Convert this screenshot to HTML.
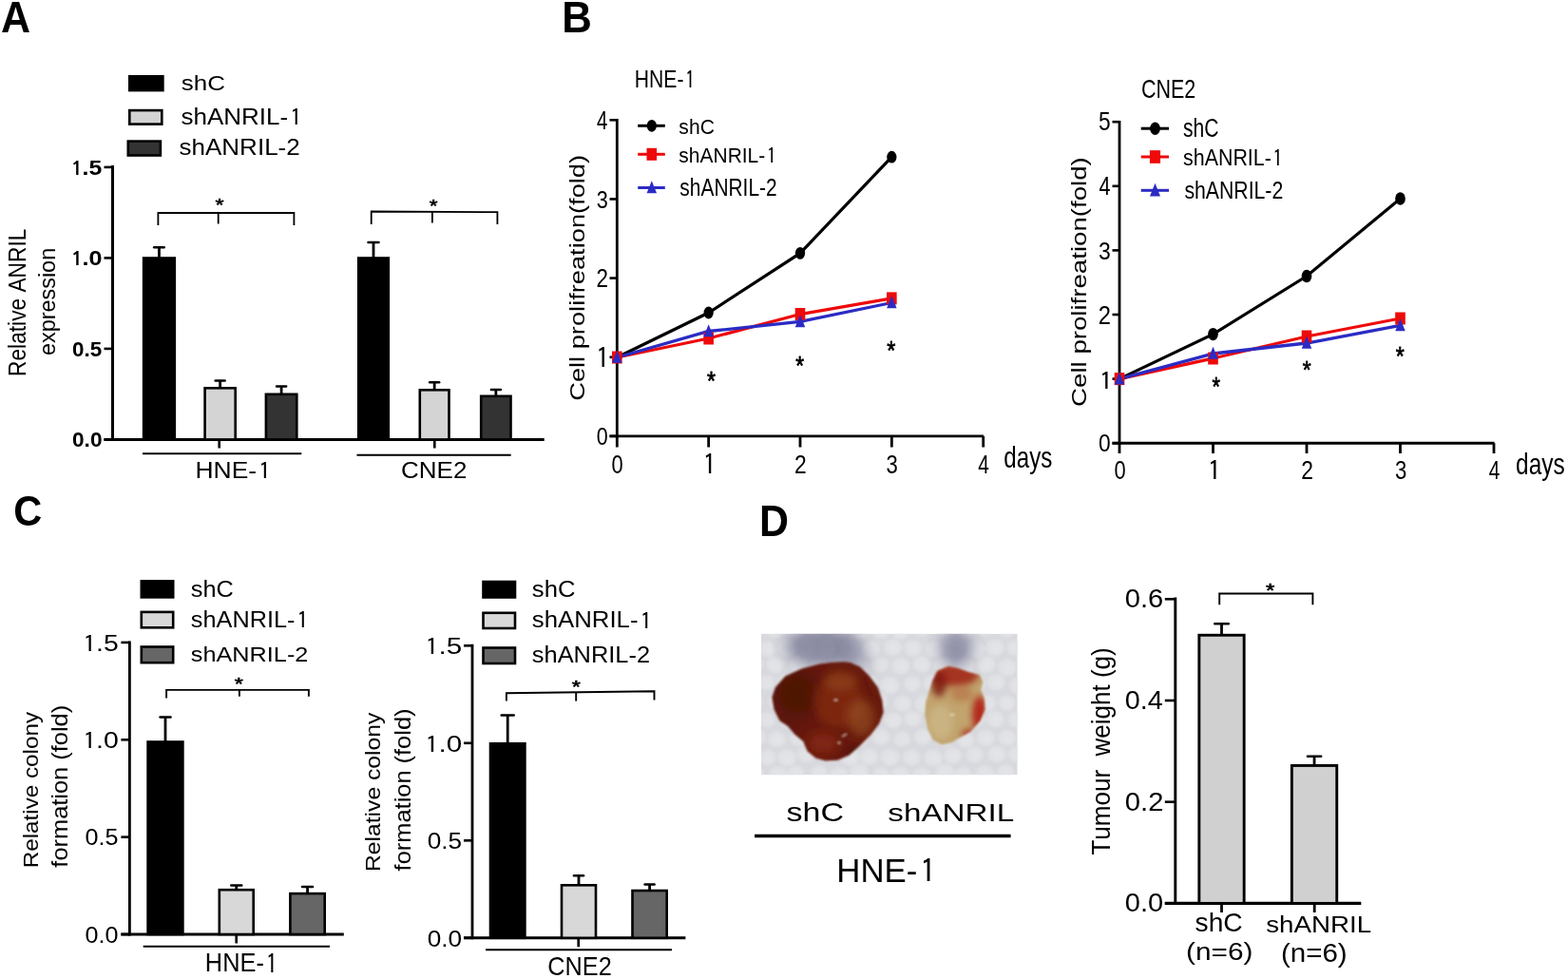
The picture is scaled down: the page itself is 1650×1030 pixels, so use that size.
<!DOCTYPE html><html><head><meta charset="utf-8"><title>Figure</title><style>html,body{margin:0;padding:0;background:#fff;}svg{display:block;}text{white-space:pre;font-kerning:none;font-variant-ligatures:none;}</style></head><body>
<svg width="1650" height="1030" viewBox="0 0 1650 1030">
<rect width="1650" height="1030" fill="#fff"/>
<text transform="translate(0.93 33.70) scale(0.4299 0.4565)" font-size="100" font-family='"Liberation Sans", Arial, sans-serif' font-weight="bold" fill="#000">A</text>
<text transform="translate(591.35 33.70) scale(0.4377 0.4594)" font-size="100" font-family='"Liberation Sans", Arial, sans-serif' font-weight="bold" fill="#000">B</text>
<text transform="translate(14.34 552.55) scale(0.4153 0.4451)" font-size="100" font-family='"Liberation Sans", Arial, sans-serif' font-weight="bold" fill="#000">C</text>
<text transform="translate(799.01 563.70) scale(0.4293 0.4594)" font-size="100" font-family='"Liberation Sans", Arial, sans-serif' font-weight="bold" fill="#000">D</text>
<rect x="136.20" y="80.20" width="35.30" height="15.00" fill="#000" stroke="#000" stroke-width="2.40"/>
<rect x="136.30" y="116.10" width="34.00" height="14.50" fill="#d4d4d4" stroke="#000" stroke-width="2.60"/>
<rect x="134.80" y="148.60" width="34.10" height="14.90" fill="#333333" stroke="#000" stroke-width="2.60"/>
<text transform="translate(190.72 95.38) scale(0.2598 0.2163)" font-size="100" font-family='"Liberation Sans", Arial, sans-serif' fill="#000">shC</text>
<text transform="translate(190.42 131.17) scale(0.2603 0.2340)" font-size="100" font-family='"Liberation Sans", Arial, sans-serif' fill="#000">shANRIL-<tspan dx="7.30" dy="5.00" font-family="IPAGothic, 'Liberation Sans', sans-serif" font-size="98.30">1</tspan></text>
<text transform="translate(188.42 163.47) scale(0.2605 0.2340)" font-size="100" font-family='"Liberation Sans", Arial, sans-serif' fill="#000">shANRIL-2</text>
<line x1="118.50" y1="174.00" x2="118.50" y2="463.90" stroke="#000" stroke-width="3.00" stroke-linecap="butt"/>
<line x1="109.50" y1="462.40" x2="572.70" y2="462.40" stroke="#000" stroke-width="3.00" stroke-linecap="butt"/>
<line x1="109.50" y1="175.90" x2="118.50" y2="175.90" stroke="#000" stroke-width="2.60" stroke-linecap="butt"/>
<text transform="translate(72.67 183.88) scale(0.2485 0.2171)" font-size="100" font-family='"Liberation Sans", Arial, sans-serif' font-weight="bold" fill="#000"><tspan dx="5.70" font-family="NanumGothic, 'Liberation Sans', sans-serif" font-size="90.50">1</tspan><tspan dx="-4.90">.</tspan>5</text>
<line x1="109.50" y1="271.40" x2="118.50" y2="271.40" stroke="#000" stroke-width="2.60" stroke-linecap="butt"/>
<text transform="translate(72.62 279.39) scale(0.2517 0.2141)" font-size="100" font-family='"Liberation Sans", Arial, sans-serif' font-weight="bold" fill="#000"><tspan dx="5.70" font-family="NanumGothic, 'Liberation Sans', sans-serif" font-size="90.50">1</tspan><tspan dx="-4.90">.</tspan>0</text>
<line x1="109.50" y1="366.90" x2="118.50" y2="366.90" stroke="#000" stroke-width="2.60" stroke-linecap="butt"/>
<text transform="translate(76.00 374.89) scale(0.2242 0.2141)" font-size="100" font-family='"Liberation Sans", Arial, sans-serif' font-weight="bold" fill="#000">0.5</text>
<line x1="109.50" y1="462.40" x2="118.50" y2="462.40" stroke="#000" stroke-width="2.60" stroke-linecap="butt"/>
<text transform="translate(75.99 470.39) scale(0.2267 0.2141)" font-size="100" font-family='"Liberation Sans", Arial, sans-serif' font-weight="bold" fill="#000">0.0</text>
<text transform="translate(26.84 395.92) rotate(-90) scale(0.2272 0.2612)" font-size="100" font-family='"Liberation Sans", Arial, sans-serif' fill="#000">Relative ANRIL</text>
<text transform="translate(58.49 374.04) rotate(-90) scale(0.2342 0.2481)" font-size="100" font-family='"Liberation Sans", Arial, sans-serif' fill="#000">expression</text>
<line x1="167.45" y1="271.20" x2="167.45" y2="260.20" stroke="#000" stroke-width="2.80" stroke-linecap="butt"/>
<line x1="162.20" y1="260.20" x2="172.70" y2="260.20" stroke="#000" stroke-width="2.50" stroke-linecap="round"/>
<rect x="151.10" y="271.50" width="32.70" height="190.90" fill="#000" stroke="#000" stroke-width="2.60"/>
<line x1="231.65" y1="408.00" x2="231.65" y2="400.50" stroke="#000" stroke-width="2.80" stroke-linecap="butt"/>
<line x1="226.65" y1="400.50" x2="236.65" y2="400.50" stroke="#000" stroke-width="2.50" stroke-linecap="round"/>
<rect x="215.60" y="408.30" width="32.10" height="54.10" fill="#d4d4d4" stroke="#000" stroke-width="2.60"/>
<line x1="296.10" y1="414.50" x2="296.10" y2="406.50" stroke="#000" stroke-width="2.80" stroke-linecap="butt"/>
<line x1="291.10" y1="406.50" x2="301.10" y2="406.50" stroke="#000" stroke-width="2.50" stroke-linecap="round"/>
<rect x="279.90" y="414.80" width="32.40" height="47.60" fill="#333333" stroke="#000" stroke-width="2.60"/>
<line x1="393.00" y1="271.20" x2="393.00" y2="255.00" stroke="#000" stroke-width="2.80" stroke-linecap="butt"/>
<line x1="387.50" y1="255.00" x2="398.50" y2="255.00" stroke="#000" stroke-width="2.50" stroke-linecap="round"/>
<rect x="377.20" y="271.50" width="31.60" height="190.90" fill="#000" stroke="#000" stroke-width="2.60"/>
<line x1="457.15" y1="410.00" x2="457.15" y2="402.30" stroke="#000" stroke-width="2.80" stroke-linecap="butt"/>
<line x1="452.15" y1="402.30" x2="462.15" y2="402.30" stroke="#000" stroke-width="2.50" stroke-linecap="round"/>
<rect x="441.80" y="410.30" width="30.70" height="52.10" fill="#d4d4d4" stroke="#000" stroke-width="2.60"/>
<line x1="521.85" y1="416.50" x2="521.85" y2="410.00" stroke="#000" stroke-width="2.80" stroke-linecap="butt"/>
<line x1="516.85" y1="410.00" x2="526.85" y2="410.00" stroke="#000" stroke-width="2.50" stroke-linecap="round"/>
<rect x="506.20" y="416.80" width="31.30" height="45.60" fill="#333333" stroke="#000" stroke-width="2.60"/>
<line x1="230.70" y1="462.40" x2="230.70" y2="471.50" stroke="#000" stroke-width="2.60" stroke-linecap="butt"/>
<line x1="457.30" y1="462.40" x2="457.30" y2="471.50" stroke="#000" stroke-width="2.60" stroke-linecap="butt"/>
<line x1="150.00" y1="477.30" x2="317.30" y2="477.30" stroke="#000" stroke-width="2.00" stroke-linecap="butt"/>
<line x1="375.50" y1="478.70" x2="537.70" y2="478.70" stroke="#000" stroke-width="2.00" stroke-linecap="butt"/>
<text transform="translate(205.48 502.70) scale(0.2647 0.2420)" font-size="100" font-family='"Liberation Sans", Arial, sans-serif' fill="#000">HNE-<tspan dx="7.30" dy="5.00" font-family="IPAGothic, 'Liberation Sans', sans-serif" font-size="98.30">1</tspan></text>
<text transform="translate(422.00 502.75) scale(0.2600 0.2465)" font-size="100" font-family='"Liberation Sans", Arial, sans-serif' fill="#000">CNE2</text>
<polyline points="166.40,237.00 166.40,224.00 309.40,224.00 309.40,237.00" fill="none" stroke="#000" stroke-width="1.80" stroke-linejoin="miter"/>
<line x1="229.70" y1="224.00" x2="229.70" y2="235.50" stroke="#000" stroke-width="1.80" stroke-linecap="butt"/>
<text transform="translate(226.40 222.17) scale(0.2338 0.1800)" font-size="100" font-family='"Liberation Sans", Arial, sans-serif' fill="#000" stroke="#000" stroke-width="3.383" stroke-linejoin="round">*</text>
<polyline points="390.70,236.10 390.70,222.50 523.40,223.10 523.40,236.10" fill="none" stroke="#000" stroke-width="1.80" stroke-linejoin="miter"/>
<line x1="454.90" y1="222.80" x2="454.90" y2="234.40" stroke="#000" stroke-width="1.80" stroke-linecap="butt"/>
<text transform="translate(451.76 223.08) scale(0.2254 0.1743)" font-size="100" font-family='"Liberation Sans", Arial, sans-serif' fill="#000" stroke="#000" stroke-width="3.503" stroke-linejoin="round">*</text>
<text transform="translate(667.81 92.00) scale(0.2113 0.2609)" font-size="100" font-family='"Liberation Sans", Arial, sans-serif' fill="#000">HNE-<tspan dx="7.30" dy="5.00" font-family="IPAGothic, 'Liberation Sans', sans-serif" font-size="98.30">1</tspan></text>
<line x1="649.30" y1="125.00" x2="649.30" y2="460.40" stroke="#000" stroke-width="2.80" stroke-linecap="butt"/>
<line x1="641.50" y1="458.90" x2="1035.00" y2="458.90" stroke="#000" stroke-width="2.90" stroke-linecap="butt"/>
<line x1="641.50" y1="458.90" x2="649.30" y2="458.90" stroke="#000" stroke-width="2.60" stroke-linecap="butt"/>
<text transform="translate(627.64 468.14) scale(0.2147 0.2648)" font-size="100" font-family='"Liberation Sans", Arial, sans-serif' fill="#000">0</text>
<line x1="641.50" y1="375.75" x2="649.30" y2="375.75" stroke="#000" stroke-width="2.60" stroke-linecap="butt"/>
<text transform="translate(624.95 385.80) scale(0.2973 0.2884)" font-size="100" font-family='"Liberation Sans", Arial, sans-serif' fill="#000"><tspan dx="7.30" dy="5.00" font-family="IPAGothic, 'Liberation Sans', sans-serif" font-size="98.30">1</tspan></text>
<line x1="641.50" y1="292.60" x2="649.30" y2="292.60" stroke="#000" stroke-width="2.60" stroke-linecap="butt"/>
<text transform="translate(627.38 302.10) scale(0.2242 0.2686)" font-size="100" font-family='"Liberation Sans", Arial, sans-serif' fill="#000">2</text>
<line x1="641.50" y1="209.45" x2="649.30" y2="209.45" stroke="#000" stroke-width="2.60" stroke-linecap="butt"/>
<text transform="translate(627.63 218.69) scale(0.2170 0.2648)" font-size="100" font-family='"Liberation Sans", Arial, sans-serif' fill="#000">3</text>
<line x1="641.50" y1="126.30" x2="649.30" y2="126.30" stroke="#000" stroke-width="2.60" stroke-linecap="butt"/>
<text transform="translate(627.99 135.80) scale(0.2040 0.2725)" font-size="100" font-family='"Liberation Sans", Arial, sans-serif' fill="#000">4</text>
<line x1="649.30" y1="458.90" x2="649.30" y2="470.50" stroke="#000" stroke-width="2.80" stroke-linecap="butt"/>
<text transform="translate(643.52 497.92) scale(0.2189 0.2775)" font-size="100" font-family='"Liberation Sans", Arial, sans-serif' fill="#000">0</text>
<line x1="745.65" y1="458.90" x2="745.65" y2="470.50" stroke="#000" stroke-width="2.80" stroke-linecap="butt"/>
<text transform="translate(737.35 498.00) scale(0.2919 0.2899)" font-size="100" font-family='"Liberation Sans", Arial, sans-serif' fill="#000"><tspan dx="7.30" dy="5.00" font-family="IPAGothic, 'Liberation Sans', sans-serif" font-size="98.30">1</tspan></text>
<line x1="842.00" y1="458.90" x2="842.00" y2="470.50" stroke="#000" stroke-width="2.80" stroke-linecap="butt"/>
<text transform="translate(835.96 498.20) scale(0.2286 0.2814)" font-size="100" font-family='"Liberation Sans", Arial, sans-serif' fill="#000">2</text>
<line x1="938.35" y1="458.90" x2="938.35" y2="470.50" stroke="#000" stroke-width="2.80" stroke-linecap="butt"/>
<text transform="translate(932.56 497.92) scale(0.2213 0.2775)" font-size="100" font-family='"Liberation Sans", Arial, sans-serif' fill="#000">3</text>
<line x1="1034.70" y1="458.90" x2="1034.70" y2="470.50" stroke="#000" stroke-width="2.80" stroke-linecap="butt"/>
<text transform="translate(1029.28 498.20) scale(0.2080 0.2855)" font-size="100" font-family='"Liberation Sans", Arial, sans-serif' fill="#000">4</text>
<text transform="translate(1056.33 491.83) scale(0.2413 0.3176)" font-size="100" font-family='"Liberation Sans", Arial, sans-serif' fill="#000">days</text>
<text transform="translate(614.63 421.76) rotate(-90) scale(0.2724 0.2128)" font-size="100" font-family='"Liberation Sans", Arial, sans-serif' fill="#000">Cell prolifreation(fold)</text>
<line x1="671.20" y1="132.30" x2="699.80" y2="132.30" stroke="#000" stroke-width="3.00" stroke-linecap="butt"/>
<ellipse cx="685.80" cy="132.30" rx="5.10" ry="6.40" fill="#000"/>
<text transform="translate(714.37 140.78) scale(0.2111 0.2177)" font-size="100" font-family='"Liberation Sans", Arial, sans-serif' fill="#000">shC</text>
<line x1="671.20" y1="162.30" x2="699.80" y2="162.30" stroke="#ee0a0a" stroke-width="3.00" stroke-linecap="butt"/>
<rect x="680.50" y="155.80" width="10.60" height="13.00" fill="#ee0a0a"/>
<text transform="translate(714.37 170.78) scale(0.2098 0.2231)" font-size="100" font-family='"Liberation Sans", Arial, sans-serif' fill="#000">shANRIL-<tspan dx="7.30" dy="5.00" font-family="IPAGothic, 'Liberation Sans', sans-serif" font-size="98.30">1</tspan></text>
<line x1="671.20" y1="197.50" x2="699.80" y2="197.50" stroke="#2b2bc4" stroke-width="3.00" stroke-linecap="butt"/>
<polygon points="685.80,190.35 680.55,203.35 691.05,203.35" fill="#2b2bc4"/>
<text transform="translate(715.37 206.05) scale(0.2091 0.2490)" font-size="100" font-family='"Liberation Sans", Arial, sans-serif' fill="#000">shANRIL-2</text>
<polyline points="649.30,376.00 745.65,329.00 842.00,266.40 938.35,165.20" fill="none" stroke="#000" stroke-width="3.20" stroke-linejoin="miter"/>
<polyline points="649.30,376.00 745.65,356.00 842.00,330.50 938.35,313.90" fill="none" stroke="#ee0a0a" stroke-width="3.30" stroke-linejoin="miter"/>
<polyline points="649.30,376.00 745.65,348.50 842.00,338.40 938.35,318.50" fill="none" stroke="#2b2bc4" stroke-width="3.30" stroke-linejoin="miter"/>
<ellipse cx="649.30" cy="376.00" rx="5.10" ry="6.40" fill="#000"/>
<ellipse cx="745.65" cy="329.00" rx="5.10" ry="6.40" fill="#000"/>
<ellipse cx="842.00" cy="266.40" rx="5.10" ry="6.40" fill="#000"/>
<ellipse cx="938.35" cy="165.20" rx="5.10" ry="6.40" fill="#000"/>
<rect x="644.00" y="369.50" width="10.60" height="13.00" fill="#ee0a0a"/>
<rect x="740.35" y="349.50" width="10.60" height="13.00" fill="#ee0a0a"/>
<rect x="836.70" y="324.00" width="10.60" height="13.00" fill="#ee0a0a"/>
<rect x="933.05" y="307.40" width="10.60" height="13.00" fill="#ee0a0a"/>
<polygon points="649.30,368.85 644.05,381.85 654.55,381.85" fill="#2b2bc4"/>
<polygon points="745.65,341.35 740.40,354.35 750.90,354.35" fill="#2b2bc4"/>
<polygon points="842.00,331.25 836.75,344.25 847.25,344.25" fill="#2b2bc4"/>
<polygon points="938.35,311.35 933.10,324.35 943.60,324.35" fill="#2b2bc4"/>
<text transform="translate(744.05 410.03) scale(0.2310 0.2743)" font-size="100" font-family='"Liberation Sans", Arial, sans-serif' fill="#000" stroke="#000" stroke-width="2.771" stroke-linejoin="round">*</text>
<text transform="translate(837.36 393.63) scale(0.2254 0.2743)" font-size="100" font-family='"Liberation Sans", Arial, sans-serif' fill="#000" stroke="#000" stroke-width="2.802" stroke-linejoin="round">*</text>
<text transform="translate(933.30 378.47) scale(0.2338 0.2771)" font-size="100" font-family='"Liberation Sans", Arial, sans-serif' fill="#000" stroke="#000" stroke-width="2.740" stroke-linejoin="round">*</text>
<text transform="translate(1201.03 102.83) scale(0.2148 0.2676)" font-size="100" font-family='"Liberation Sans", Arial, sans-serif' fill="#000">CNE2</text>
<line x1="1178.00" y1="127.00" x2="1178.00" y2="467.70" stroke="#000" stroke-width="2.80" stroke-linecap="butt"/>
<line x1="1170.50" y1="466.20" x2="1572.50" y2="466.20" stroke="#000" stroke-width="2.90" stroke-linecap="butt"/>
<line x1="1170.50" y1="466.20" x2="1178.00" y2="466.20" stroke="#000" stroke-width="2.60" stroke-linecap="butt"/>
<text transform="translate(1156.09 475.44) scale(0.2274 0.2648)" font-size="100" font-family='"Liberation Sans", Arial, sans-serif' fill="#000">0</text>
<line x1="1170.50" y1="398.60" x2="1178.00" y2="398.60" stroke="#000" stroke-width="2.60" stroke-linecap="butt"/>
<text transform="translate(1154.75 408.20) scale(0.2919 0.2667)" font-size="100" font-family='"Liberation Sans", Arial, sans-serif' fill="#000"><tspan dx="7.30" dy="5.00" font-family="IPAGothic, 'Liberation Sans', sans-serif" font-size="98.30">1</tspan></text>
<line x1="1170.50" y1="331.00" x2="1178.00" y2="331.00" stroke="#000" stroke-width="2.60" stroke-linecap="butt"/>
<text transform="translate(1155.81 340.50) scale(0.2374 0.2686)" font-size="100" font-family='"Liberation Sans", Arial, sans-serif' fill="#000">2</text>
<line x1="1170.50" y1="263.40" x2="1178.00" y2="263.40" stroke="#000" stroke-width="2.60" stroke-linecap="butt"/>
<text transform="translate(1156.08 272.64) scale(0.2298 0.2648)" font-size="100" font-family='"Liberation Sans", Arial, sans-serif' fill="#000">3</text>
<line x1="1170.50" y1="195.80" x2="1178.00" y2="195.80" stroke="#000" stroke-width="2.60" stroke-linecap="butt"/>
<text transform="translate(1156.46 205.30) scale(0.2160 0.2725)" font-size="100" font-family='"Liberation Sans", Arial, sans-serif' fill="#000">4</text>
<line x1="1170.50" y1="128.20" x2="1178.00" y2="128.20" stroke="#000" stroke-width="2.60" stroke-linecap="butt"/>
<text transform="translate(1156.09 137.43) scale(0.2274 0.2686)" font-size="100" font-family='"Liberation Sans", Arial, sans-serif' fill="#000">5</text>
<line x1="1178.00" y1="466.20" x2="1178.00" y2="477.00" stroke="#000" stroke-width="2.80" stroke-linecap="butt"/>
<text transform="translate(1172.42 503.53) scale(0.2189 0.2676)" font-size="100" font-family='"Liberation Sans", Arial, sans-serif' fill="#000">0</text>
<line x1="1276.50" y1="466.20" x2="1276.50" y2="477.00" stroke="#000" stroke-width="2.80" stroke-linecap="butt"/>
<text transform="translate(1268.65 503.80) scale(0.2919 0.2754)" font-size="100" font-family='"Liberation Sans", Arial, sans-serif' fill="#000"><tspan dx="7.30" dy="5.00" font-family="IPAGothic, 'Liberation Sans', sans-serif" font-size="98.30">1</tspan></text>
<line x1="1375.00" y1="466.20" x2="1375.00" y2="477.00" stroke="#000" stroke-width="2.80" stroke-linecap="butt"/>
<text transform="translate(1369.16 503.80) scale(0.2286 0.2714)" font-size="100" font-family='"Liberation Sans", Arial, sans-serif' fill="#000">2</text>
<line x1="1473.50" y1="466.20" x2="1473.50" y2="477.00" stroke="#000" stroke-width="2.80" stroke-linecap="butt"/>
<text transform="translate(1467.91 503.53) scale(0.2213 0.2676)" font-size="100" font-family='"Liberation Sans", Arial, sans-serif' fill="#000">3</text>
<line x1="1572.00" y1="466.20" x2="1572.00" y2="477.00" stroke="#000" stroke-width="2.80" stroke-linecap="butt"/>
<text transform="translate(1566.78 503.80) scale(0.2080 0.2754)" font-size="100" font-family='"Liberation Sans", Arial, sans-serif' fill="#000">4</text>
<text transform="translate(1595.12 498.76) scale(0.2442 0.3112)" font-size="100" font-family='"Liberation Sans", Arial, sans-serif' fill="#000">days</text>
<text transform="translate(1143.03 427.88) rotate(-90) scale(0.2764 0.2128)" font-size="100" font-family='"Liberation Sans", Arial, sans-serif' fill="#000">Cell prolifreation(fold)</text>
<line x1="1200.70" y1="135.20" x2="1230.00" y2="135.20" stroke="#000" stroke-width="3.00" stroke-linecap="butt"/>
<ellipse cx="1215.50" cy="135.20" rx="5.35" ry="6.72" fill="#000"/>
<text transform="translate(1245.07 143.73) scale(0.2106 0.2680)" font-size="100" font-family='"Liberation Sans", Arial, sans-serif' fill="#000">shC</text>
<line x1="1200.70" y1="165.00" x2="1230.00" y2="165.00" stroke="#ee0a0a" stroke-width="3.00" stroke-linecap="butt"/>
<rect x="1209.93" y="158.18" width="11.13" height="13.65" fill="#ee0a0a"/>
<text transform="translate(1245.06 173.96) scale(0.2141 0.2395)" font-size="100" font-family='"Liberation Sans", Arial, sans-serif' fill="#000">shANRIL-<tspan dx="7.30" dy="5.00" font-family="IPAGothic, 'Liberation Sans', sans-serif" font-size="98.30">1</tspan></text>
<line x1="1200.70" y1="200.30" x2="1230.00" y2="200.30" stroke="#2b2bc4" stroke-width="3.00" stroke-linecap="butt"/>
<polygon points="1215.50,192.79 1209.99,206.44 1221.01,206.44" fill="#2b2bc4"/>
<text transform="translate(1246.46 209.14) scale(0.2123 0.2585)" font-size="100" font-family='"Liberation Sans", Arial, sans-serif' fill="#000">shANRIL-2</text>
<polyline points="1178.00,398.60 1276.50,351.60 1375.00,290.50 1473.50,209.00" fill="none" stroke="#000" stroke-width="3.20" stroke-linejoin="miter"/>
<polyline points="1178.00,398.60 1276.50,377.00 1375.00,354.00 1473.50,335.00" fill="none" stroke="#ee0a0a" stroke-width="3.30" stroke-linejoin="miter"/>
<polyline points="1178.00,398.60 1276.50,372.00 1375.00,361.00 1473.50,342.40" fill="none" stroke="#2b2bc4" stroke-width="3.30" stroke-linejoin="miter"/>
<ellipse cx="1178.00" cy="398.60" rx="5.35" ry="6.72" fill="#000"/>
<ellipse cx="1276.50" cy="351.60" rx="5.35" ry="6.72" fill="#000"/>
<ellipse cx="1375.00" cy="290.50" rx="5.35" ry="6.72" fill="#000"/>
<ellipse cx="1473.50" cy="209.00" rx="5.35" ry="6.72" fill="#000"/>
<rect x="1172.70" y="392.10" width="10.60" height="13.00" fill="#ee0a0a"/>
<rect x="1271.20" y="370.50" width="10.60" height="13.00" fill="#ee0a0a"/>
<rect x="1369.70" y="347.50" width="10.60" height="13.00" fill="#ee0a0a"/>
<rect x="1468.20" y="328.50" width="10.60" height="13.00" fill="#ee0a0a"/>
<polygon points="1178.00,391.45 1172.75,404.45 1183.25,404.45" fill="#2b2bc4"/>
<polygon points="1276.50,364.85 1271.25,377.85 1281.75,377.85" fill="#2b2bc4"/>
<polygon points="1375.00,353.85 1369.75,366.85 1380.25,366.85" fill="#2b2bc4"/>
<polygon points="1473.50,335.25 1468.25,348.25 1478.75,348.25" fill="#2b2bc4"/>
<text transform="translate(1275.62 415.82) scale(0.2169 0.2800)" font-size="100" font-family='"Liberation Sans", Arial, sans-serif' fill="#000" stroke="#000" stroke-width="2.817" stroke-linejoin="round">*</text>
<text transform="translate(1370.81 398.48) scale(0.2282 0.2657)" font-size="100" font-family='"Liberation Sans", Arial, sans-serif' fill="#000" stroke="#000" stroke-width="2.835" stroke-linejoin="round">*</text>
<text transform="translate(1468.85 383.73) scale(0.2310 0.2743)" font-size="100" font-family='"Liberation Sans", Arial, sans-serif' fill="#000" stroke="#000" stroke-width="2.771" stroke-linejoin="round">*</text>
<rect x="148.80" y="611.40" width="33.40" height="17.00" fill="#000" stroke="#000" stroke-width="2.60"/>
<rect x="148.80" y="643.90" width="33.40" height="16.40" fill="#d8d8d8" stroke="#000" stroke-width="2.60"/>
<rect x="148.80" y="680.50" width="33.40" height="16.70" fill="#666666" stroke="#000" stroke-width="2.60"/>
<text transform="translate(200.84 627.96) scale(0.2534 0.2354)" font-size="100" font-family='"Liberation Sans", Arial, sans-serif' fill="#000">shC</text>
<text transform="translate(200.84 660.27) scale(0.2528 0.2313)" font-size="100" font-family='"Liberation Sans", Arial, sans-serif' fill="#000">shANRIL-<tspan dx="7.30" dy="5.00" font-family="IPAGothic, 'Liberation Sans', sans-serif" font-size="98.30">1</tspan></text>
<text transform="translate(200.84 696.47) scale(0.2526 0.2272)" font-size="100" font-family='"Liberation Sans", Arial, sans-serif' fill="#000">shANRIL-2</text>
<line x1="136.40" y1="674.45" x2="136.40" y2="984.50" stroke="#000" stroke-width="2.80" stroke-linecap="butt"/>
<line x1="127.40" y1="983.00" x2="361.80" y2="983.00" stroke="#000" stroke-width="2.90" stroke-linecap="butt"/>
<line x1="127.40" y1="675.95" x2="136.40" y2="675.95" stroke="#000" stroke-width="2.60" stroke-linecap="butt"/>
<text transform="translate(85.19 684.71) scale(0.2845 0.2371)" font-size="100" font-family='"Liberation Sans", Arial, sans-serif' fill="#000"><tspan dx="7.30" dy="5.00" font-family="IPAGothic, 'Liberation Sans', sans-serif" font-size="98.30">1</tspan><tspan dx="-0.85" dy="-5.00">.</tspan>5</text>
<line x1="127.40" y1="778.30" x2="136.40" y2="778.30" stroke="#000" stroke-width="2.60" stroke-linecap="butt"/>
<text transform="translate(85.19 787.07) scale(0.2845 0.2338)" font-size="100" font-family='"Liberation Sans", Arial, sans-serif' fill="#000"><tspan dx="7.30" dy="5.00" font-family="IPAGothic, 'Liberation Sans', sans-serif" font-size="98.30">1</tspan><tspan dx="-0.85" dy="-5.00">.</tspan>0</text>
<line x1="127.40" y1="880.65" x2="136.40" y2="880.65" stroke="#000" stroke-width="2.60" stroke-linecap="butt"/>
<text transform="translate(89.59 889.42) scale(0.2519 0.2338)" font-size="100" font-family='"Liberation Sans", Arial, sans-serif' fill="#000">0.5</text>
<line x1="127.40" y1="983.00" x2="136.40" y2="983.00" stroke="#000" stroke-width="2.60" stroke-linecap="butt"/>
<text transform="translate(89.59 991.77) scale(0.2519 0.2338)" font-size="100" font-family='"Liberation Sans", Arial, sans-serif' fill="#000">0.0</text>
<line x1="174.00" y1="780.20" x2="174.00" y2="754.60" stroke="#000" stroke-width="2.80" stroke-linecap="butt"/>
<line x1="168.50" y1="754.60" x2="179.50" y2="754.60" stroke="#000" stroke-width="2.50" stroke-linecap="round"/>
<rect x="155.60" y="780.50" width="36.80" height="202.50" fill="#000" stroke="#000" stroke-width="2.60"/>
<line x1="248.75" y1="935.90" x2="248.75" y2="931.50" stroke="#000" stroke-width="2.80" stroke-linecap="butt"/>
<line x1="243.25" y1="931.50" x2="254.25" y2="931.50" stroke="#000" stroke-width="2.50" stroke-linecap="round"/>
<rect x="230.80" y="936.20" width="35.90" height="46.80" fill="#d8d8d8" stroke="#000" stroke-width="2.60"/>
<line x1="323.55" y1="939.80" x2="323.55" y2="933.00" stroke="#000" stroke-width="2.80" stroke-linecap="butt"/>
<line x1="318.05" y1="933.00" x2="329.05" y2="933.00" stroke="#000" stroke-width="2.50" stroke-linecap="round"/>
<rect x="305.40" y="940.10" width="36.30" height="42.90" fill="#666666" stroke="#000" stroke-width="2.60"/>
<line x1="248.70" y1="983.00" x2="248.70" y2="992.50" stroke="#000" stroke-width="2.60" stroke-linecap="butt"/>
<line x1="150.70" y1="995.70" x2="347.00" y2="995.70" stroke="#000" stroke-width="2.00" stroke-linecap="butt"/>
<text transform="translate(215.87 1022.40) scale(0.2537 0.2725)" font-size="100" font-family='"Liberation Sans", Arial, sans-serif' fill="#000">HNE-<tspan dx="7.30" dy="5.00" font-family="IPAGothic, 'Liberation Sans', sans-serif" font-size="98.30">1</tspan></text>
<polyline points="175.10,734.40 175.10,725.90 324.90,725.90 324.90,732.70" fill="none" stroke="#000" stroke-width="1.90" stroke-linejoin="miter"/>
<line x1="251.90" y1="725.90" x2="251.90" y2="732.70" stroke="#000" stroke-width="1.90" stroke-linecap="butt"/>
<text transform="translate(246.80 725.88) scale(0.2338 0.1743)" font-size="100" font-family='"Liberation Sans", Arial, sans-serif' fill="#000" stroke="#000" stroke-width="3.431" stroke-linejoin="round">*</text>
<text transform="translate(39.82 913.34) rotate(-90) scale(0.2427 0.2278)" font-size="100" font-family='"Liberation Sans", Arial, sans-serif' fill="#000">Relative colony</text>
<text transform="translate(71.01 912.68) rotate(-90) scale(0.2543 0.2374)" font-size="100" font-family='"Liberation Sans", Arial, sans-serif' fill="#000">formation (fold)</text>
<rect x="508.50" y="612.00" width="33.50" height="16.50" fill="#000" stroke="#000" stroke-width="2.60"/>
<rect x="508.50" y="644.80" width="33.50" height="16.20" fill="#d8d8d8" stroke="#000" stroke-width="2.60"/>
<rect x="508.50" y="681.50" width="33.50" height="16.50" fill="#666666" stroke="#000" stroke-width="2.60"/>
<text transform="translate(559.83 627.96) scale(0.2563 0.2354)" font-size="100" font-family='"Liberation Sans", Arial, sans-serif' fill="#000">shC</text>
<text transform="translate(559.83 660.46) scale(0.2577 0.2354)" font-size="100" font-family='"Liberation Sans", Arial, sans-serif' fill="#000">shANRIL-<tspan dx="7.30" dy="5.00" font-family="IPAGothic, 'Liberation Sans', sans-serif" font-size="98.30">1</tspan></text>
<text transform="translate(559.84 697.06) scale(0.2541 0.2354)" font-size="100" font-family='"Liberation Sans", Arial, sans-serif' fill="#000">shANRIL-2</text>
<line x1="497.00" y1="677.80" x2="497.00" y2="988.30" stroke="#000" stroke-width="2.80" stroke-linecap="butt"/>
<line x1="488.00" y1="986.80" x2="721.40" y2="986.80" stroke="#000" stroke-width="2.90" stroke-linecap="butt"/>
<line x1="488.00" y1="679.30" x2="497.00" y2="679.30" stroke="#000" stroke-width="2.60" stroke-linecap="butt"/>
<text transform="translate(445.08 688.06) scale(0.2957 0.2371)" font-size="100" font-family='"Liberation Sans", Arial, sans-serif' fill="#000"><tspan dx="7.30" dy="5.00" font-family="IPAGothic, 'Liberation Sans', sans-serif" font-size="98.30">1</tspan><tspan dx="-0.85" dy="-5.00">.</tspan>5</text>
<line x1="488.00" y1="781.80" x2="497.00" y2="781.80" stroke="#000" stroke-width="2.60" stroke-linecap="butt"/>
<text transform="translate(445.08 790.57) scale(0.2957 0.2338)" font-size="100" font-family='"Liberation Sans", Arial, sans-serif' fill="#000"><tspan dx="7.30" dy="5.00" font-family="IPAGothic, 'Liberation Sans', sans-serif" font-size="98.30">1</tspan><tspan dx="-0.85" dy="-5.00">.</tspan>0</text>
<line x1="488.00" y1="884.30" x2="497.00" y2="884.30" stroke="#000" stroke-width="2.60" stroke-linecap="butt"/>
<text transform="translate(449.65 893.07) scale(0.2618 0.2338)" font-size="100" font-family='"Liberation Sans", Arial, sans-serif' fill="#000">0.5</text>
<line x1="488.00" y1="986.80" x2="497.00" y2="986.80" stroke="#000" stroke-width="2.60" stroke-linecap="butt"/>
<text transform="translate(449.65 995.57) scale(0.2618 0.2338)" font-size="100" font-family='"Liberation Sans", Arial, sans-serif' fill="#000">0.0</text>
<line x1="534.20" y1="782.00" x2="534.20" y2="752.60" stroke="#000" stroke-width="2.80" stroke-linecap="butt"/>
<line x1="527.70" y1="752.60" x2="540.70" y2="752.60" stroke="#000" stroke-width="2.50" stroke-linecap="round"/>
<rect x="516.00" y="782.30" width="36.40" height="204.50" fill="#000" stroke="#000" stroke-width="2.60"/>
<line x1="609.00" y1="931.00" x2="609.00" y2="921.30" stroke="#000" stroke-width="2.80" stroke-linecap="butt"/>
<line x1="604.00" y1="921.30" x2="614.00" y2="921.30" stroke="#000" stroke-width="2.50" stroke-linecap="round"/>
<rect x="591.00" y="931.30" width="36.00" height="55.50" fill="#d8d8d8" stroke="#000" stroke-width="2.60"/>
<line x1="683.60" y1="936.70" x2="683.60" y2="930.50" stroke="#000" stroke-width="2.80" stroke-linecap="butt"/>
<line x1="678.60" y1="930.50" x2="688.60" y2="930.50" stroke="#000" stroke-width="2.50" stroke-linecap="round"/>
<rect x="665.50" y="937.00" width="36.20" height="49.80" fill="#666666" stroke="#000" stroke-width="2.60"/>
<line x1="608.70" y1="986.80" x2="608.70" y2="996.30" stroke="#000" stroke-width="2.60" stroke-linecap="butt"/>
<line x1="511.00" y1="999.30" x2="707.00" y2="999.30" stroke="#000" stroke-width="2.00" stroke-linecap="butt"/>
<text transform="translate(576.34 1026.12) scale(0.2526 0.2817)" font-size="100" font-family='"Liberation Sans", Arial, sans-serif' fill="#000">CNE2</text>
<polyline points="532.90,737.60 532.90,729.20 688.50,727.30 688.50,736.50" fill="none" stroke="#000" stroke-width="1.90" stroke-linejoin="miter"/>
<line x1="606.20" y1="728.30" x2="606.20" y2="737.60" stroke="#000" stroke-width="1.90" stroke-linecap="butt"/>
<text transform="translate(601.80 729.08) scale(0.2338 0.1743)" font-size="100" font-family='"Liberation Sans", Arial, sans-serif' fill="#000" stroke="#000" stroke-width="3.431" stroke-linejoin="round">*</text>
<text transform="translate(399.82 917.08) rotate(-90) scale(0.2469 0.2278)" font-size="100" font-family='"Liberation Sans", Arial, sans-serif' fill="#000">Relative colony</text>
<text transform="translate(431.91 916.38) rotate(-90) scale(0.2543 0.2374)" font-size="100" font-family='"Liberation Sans", Arial, sans-serif' fill="#000">formation (fold)</text>
<defs>
<filter id="bl8" x="-50%" y="-50%" width="200%" height="200%"><feGaussianBlur stdDeviation="8"/></filter>
<filter id="bl5" x="-50%" y="-50%" width="200%" height="200%"><feGaussianBlur stdDeviation="5"/></filter>
<filter id="bl3" x="-50%" y="-50%" width="200%" height="200%"><feGaussianBlur stdDeviation="3"/></filter>
<filter id="bl2" x="-50%" y="-50%" width="200%" height="200%"><feGaussianBlur stdDeviation="1.8"/></filter>
<filter id="bl1" x="-20%" y="-20%" width="140%" height="140%"><feGaussianBlur stdDeviation="0.9"/></filter>
<clipPath id="photoclip"><rect x="801.0" y="666.8" width="269.7" height="148.5"/></clipPath>

<clipPath id="bigclip"><polygon points="887.4,696.3 875.0,697.0 862.6,698.5 843.7,703.6 826.2,711.6 816.0,723.3 812.4,733.5 814.6,746.6 820.4,758.2 829.1,764.1 836.4,772.8 845.2,780.1 849.5,790.3 858.3,797.6 868.5,800.5 881.6,799.8 893.2,794.7 904.9,784.5 916.5,772.8 925.3,761.2 929.7,749.5 928.2,736.4 923.8,723.3 915.1,711.6 904.9,701.4 894.7,697.0"/></clipPath>
<clipPath id="smallclip"><polygon points="998.0,700.7 986.4,705.8 981.3,716.0 977.7,727.6 974.0,739.2 973.3,752.4 976.2,766.9 982.0,778.6 990.8,783.6 1001.0,781.5 1011.1,775.6 1021.3,769.8 1031.5,758.2 1036.6,746.5 1035.9,734.9 1032.3,726.1 1034.4,717.4 1030.8,710.1 1019.9,707.2 1008.2,702.9"/></clipPath>
</defs>
<g clip-path="url(#photoclip)">
<rect x="801.0" y="666.8" width="269.7" height="148.5" fill="#d8d9de"/>
<g filter="url(#bl2)" fill="#e2e3e6" opacity="0.8"><ellipse cx="794.3" cy="661.4" rx="9.7" ry="8.7"/><ellipse cx="815.3" cy="662.9" rx="9.3" ry="8.4"/><ellipse cx="837.2" cy="662.8" rx="8.8" ry="8.0"/><ellipse cx="860.7" cy="661.1" rx="8.9" ry="8.0"/><ellipse cx="882.7" cy="664.1" rx="9.0" ry="8.1"/><ellipse cx="903.9" cy="663.3" rx="10.1" ry="9.0"/><ellipse cx="927.3" cy="662.4" rx="10.1" ry="9.1"/><ellipse cx="947.2" cy="664.2" rx="9.2" ry="8.3"/><ellipse cx="969.6" cy="661.3" rx="9.2" ry="8.3"/><ellipse cx="994.3" cy="661.5" rx="9.6" ry="8.6"/><ellipse cx="1015.6" cy="662.3" rx="9.5" ry="8.6"/><ellipse cx="1035.3" cy="661.0" rx="9.1" ry="8.2"/><ellipse cx="1059.7" cy="662.5" rx="9.2" ry="8.3"/><ellipse cx="1081.3" cy="662.6" rx="9.2" ry="8.3"/><ellipse cx="807.2" cy="682.5" rx="9.1" ry="8.2"/><ellipse cx="828.3" cy="681.8" rx="10.0" ry="9.0"/><ellipse cx="850.9" cy="680.9" rx="10.1" ry="9.1"/><ellipse cx="870.5" cy="681.4" rx="9.8" ry="8.8"/><ellipse cx="892.6" cy="681.7" rx="8.9" ry="8.0"/><ellipse cx="916.7" cy="682.8" rx="9.6" ry="8.6"/><ellipse cx="939.5" cy="681.0" rx="9.7" ry="8.7"/><ellipse cx="960.4" cy="682.0" rx="9.4" ry="8.5"/><ellipse cx="983.4" cy="683.5" rx="9.4" ry="8.5"/><ellipse cx="1004.7" cy="680.0" rx="9.7" ry="8.8"/><ellipse cx="1026.6" cy="683.7" rx="9.9" ry="8.9"/><ellipse cx="1047.1" cy="681.3" rx="9.7" ry="8.7"/><ellipse cx="1068.1" cy="681.6" rx="9.0" ry="8.1"/><ellipse cx="793.5" cy="698.9" rx="9.8" ry="8.8"/><ellipse cx="815.5" cy="699.6" rx="9.3" ry="8.4"/><ellipse cx="840.5" cy="699.0" rx="9.4" ry="8.5"/><ellipse cx="861.2" cy="702.2" rx="9.9" ry="8.9"/><ellipse cx="884.5" cy="699.8" rx="9.3" ry="8.4"/><ellipse cx="904.4" cy="702.2" rx="10.1" ry="9.1"/><ellipse cx="925.6" cy="699.3" rx="9.1" ry="8.2"/><ellipse cx="947.9" cy="700.6" rx="9.6" ry="8.6"/><ellipse cx="970.1" cy="698.7" rx="9.4" ry="8.4"/><ellipse cx="992.5" cy="700.9" rx="10.1" ry="9.1"/><ellipse cx="1015.8" cy="700.7" rx="9.6" ry="8.7"/><ellipse cx="1037.7" cy="698.9" rx="10.0" ry="9.0"/><ellipse cx="1060.1" cy="702.1" rx="9.9" ry="8.9"/><ellipse cx="1080.6" cy="700.2" rx="8.9" ry="8.0"/><ellipse cx="806.5" cy="717.8" rx="8.9" ry="8.0"/><ellipse cx="826.8" cy="718.2" rx="9.2" ry="8.3"/><ellipse cx="848.2" cy="717.6" rx="9.0" ry="8.1"/><ellipse cx="870.4" cy="719.0" rx="8.8" ry="8.0"/><ellipse cx="895.5" cy="720.0" rx="9.0" ry="8.1"/><ellipse cx="915.0" cy="718.9" rx="9.3" ry="8.4"/><ellipse cx="936.5" cy="721.0" rx="10.1" ry="9.1"/><ellipse cx="959.9" cy="719.5" rx="8.9" ry="8.0"/><ellipse cx="980.4" cy="718.9" rx="9.1" ry="8.2"/><ellipse cx="1005.3" cy="718.2" rx="8.8" ry="7.9"/><ellipse cx="1027.8" cy="719.7" rx="9.0" ry="8.1"/><ellipse cx="1048.2" cy="717.7" rx="9.5" ry="8.5"/><ellipse cx="1071.9" cy="721.0" rx="9.7" ry="8.7"/><ellipse cx="794.0" cy="737.9" rx="9.0" ry="8.1"/><ellipse cx="818.1" cy="738.6" rx="9.8" ry="8.8"/><ellipse cx="838.3" cy="737.4" rx="9.9" ry="8.9"/><ellipse cx="862.9" cy="739.9" rx="9.9" ry="8.9"/><ellipse cx="884.3" cy="739.4" rx="9.1" ry="8.2"/><ellipse cx="905.1" cy="737.9" rx="8.8" ry="8.0"/><ellipse cx="925.1" cy="737.6" rx="9.1" ry="8.2"/><ellipse cx="949.8" cy="740.3" rx="9.4" ry="8.5"/><ellipse cx="972.7" cy="740.4" rx="10.1" ry="9.1"/><ellipse cx="992.5" cy="737.4" rx="9.1" ry="8.2"/><ellipse cx="1013.8" cy="737.3" rx="9.6" ry="8.7"/><ellipse cx="1038.6" cy="739.8" rx="9.4" ry="8.5"/><ellipse cx="1059.6" cy="739.7" rx="8.9" ry="8.0"/><ellipse cx="1081.6" cy="740.1" rx="9.8" ry="8.8"/><ellipse cx="807.0" cy="757.3" rx="9.0" ry="8.1"/><ellipse cx="829.2" cy="756.7" rx="9.9" ry="8.9"/><ellipse cx="851.9" cy="757.0" rx="9.3" ry="8.4"/><ellipse cx="873.8" cy="758.3" rx="9.0" ry="8.1"/><ellipse cx="892.5" cy="756.0" rx="10.0" ry="9.0"/><ellipse cx="917.2" cy="756.0" rx="9.9" ry="8.9"/><ellipse cx="939.9" cy="758.0" rx="9.3" ry="8.3"/><ellipse cx="960.2" cy="755.9" rx="8.8" ry="7.9"/><ellipse cx="983.9" cy="758.0" rx="9.5" ry="8.5"/><ellipse cx="1005.7" cy="757.1" rx="10.0" ry="9.0"/><ellipse cx="1027.3" cy="756.2" rx="9.1" ry="8.2"/><ellipse cx="1047.2" cy="756.4" rx="9.6" ry="8.6"/><ellipse cx="1069.0" cy="757.1" rx="9.0" ry="8.1"/><ellipse cx="796.6" cy="775.7" rx="9.4" ry="8.5"/><ellipse cx="817.3" cy="777.9" rx="9.4" ry="8.4"/><ellipse cx="840.7" cy="776.3" rx="9.5" ry="8.6"/><ellipse cx="861.1" cy="774.4" rx="9.4" ry="8.4"/><ellipse cx="881.7" cy="774.3" rx="9.9" ry="8.9"/><ellipse cx="903.7" cy="776.2" rx="9.8" ry="8.8"/><ellipse cx="927.2" cy="775.6" rx="9.5" ry="8.5"/><ellipse cx="949.2" cy="777.5" rx="8.9" ry="8.0"/><ellipse cx="971.2" cy="775.3" rx="9.2" ry="8.2"/><ellipse cx="994.1" cy="776.4" rx="9.5" ry="8.6"/><ellipse cx="1016.0" cy="778.0" rx="9.4" ry="8.4"/><ellipse cx="1037.5" cy="776.3" rx="9.5" ry="8.5"/><ellipse cx="1059.8" cy="776.1" rx="9.5" ry="8.6"/><ellipse cx="1080.9" cy="778.1" rx="9.7" ry="8.8"/><ellipse cx="807.5" cy="797.0" rx="9.1" ry="8.2"/><ellipse cx="828.2" cy="797.0" rx="9.9" ry="8.9"/><ellipse cx="848.5" cy="793.7" rx="9.4" ry="8.4"/><ellipse cx="870.3" cy="794.2" rx="8.9" ry="8.0"/><ellipse cx="894.7" cy="796.4" rx="10.0" ry="9.0"/><ellipse cx="914.6" cy="796.1" rx="9.7" ry="8.7"/><ellipse cx="936.6" cy="796.8" rx="10.1" ry="9.1"/><ellipse cx="958.9" cy="797.1" rx="9.3" ry="8.4"/><ellipse cx="981.9" cy="797.2" rx="9.9" ry="8.9"/><ellipse cx="1002.6" cy="795.0" rx="9.5" ry="8.5"/><ellipse cx="1025.4" cy="794.0" rx="9.2" ry="8.3"/><ellipse cx="1048.9" cy="793.3" rx="9.5" ry="8.6"/><ellipse cx="1069.8" cy="793.3" rx="9.2" ry="8.3"/><ellipse cx="795.5" cy="814.2" rx="8.9" ry="8.0"/><ellipse cx="818.9" cy="815.3" rx="10.1" ry="9.1"/><ellipse cx="837.4" cy="813.2" rx="8.9" ry="8.0"/><ellipse cx="862.1" cy="813.2" rx="9.0" ry="8.1"/><ellipse cx="882.7" cy="815.8" rx="9.9" ry="8.9"/><ellipse cx="904.0" cy="812.8" rx="10.0" ry="9.0"/><ellipse cx="927.3" cy="815.0" rx="8.9" ry="8.0"/><ellipse cx="947.2" cy="814.9" rx="9.4" ry="8.4"/><ellipse cx="969.3" cy="815.9" rx="9.6" ry="8.7"/><ellipse cx="994.2" cy="812.5" rx="9.9" ry="8.9"/><ellipse cx="1013.3" cy="815.6" rx="9.4" ry="8.5"/><ellipse cx="1036.4" cy="814.4" rx="10.0" ry="9.0"/><ellipse cx="1058.1" cy="812.7" rx="9.5" ry="8.5"/><ellipse cx="1080.0" cy="812.6" rx="9.0" ry="8.1"/></g>
<g filter="url(#bl3)" fill="#eaebed" opacity="0.5"><ellipse cx="795.3" cy="662.4" rx="5.3" ry="4.8"/><ellipse cx="816.3" cy="663.9" rx="5.1" ry="4.6"/><ellipse cx="838.2" cy="663.8" rx="4.9" ry="4.4"/><ellipse cx="861.7" cy="662.1" rx="4.9" ry="4.5"/><ellipse cx="883.7" cy="665.1" rx="4.9" ry="4.5"/><ellipse cx="904.9" cy="664.3" rx="5.5" ry="5.0"/><ellipse cx="928.3" cy="663.4" rx="5.5" ry="5.0"/><ellipse cx="948.2" cy="665.2" rx="5.1" ry="4.6"/><ellipse cx="970.6" cy="662.3" rx="5.1" ry="4.6"/><ellipse cx="995.3" cy="662.5" rx="5.3" ry="4.8"/><ellipse cx="1016.6" cy="663.3" rx="5.2" ry="4.8"/><ellipse cx="1036.3" cy="662.0" rx="5.0" ry="4.5"/><ellipse cx="1060.7" cy="663.5" rx="5.1" ry="4.6"/><ellipse cx="1082.3" cy="663.6" rx="5.1" ry="4.6"/><ellipse cx="808.2" cy="683.5" rx="5.0" ry="4.6"/><ellipse cx="829.3" cy="682.8" rx="5.5" ry="5.0"/><ellipse cx="851.9" cy="681.9" rx="5.6" ry="5.0"/><ellipse cx="871.5" cy="682.4" rx="5.4" ry="4.9"/><ellipse cx="893.6" cy="682.7" rx="4.9" ry="4.4"/><ellipse cx="917.7" cy="683.8" rx="5.3" ry="4.8"/><ellipse cx="940.5" cy="682.0" rx="5.3" ry="4.9"/><ellipse cx="961.4" cy="683.0" rx="5.2" ry="4.7"/><ellipse cx="984.4" cy="684.5" rx="5.2" ry="4.7"/><ellipse cx="1005.7" cy="681.0" rx="5.3" ry="4.9"/><ellipse cx="1027.6" cy="684.7" rx="5.4" ry="4.9"/><ellipse cx="1048.1" cy="682.3" rx="5.3" ry="4.8"/><ellipse cx="1069.1" cy="682.6" rx="5.0" ry="4.5"/><ellipse cx="794.5" cy="699.9" rx="5.4" ry="4.9"/><ellipse cx="816.5" cy="700.6" rx="5.1" ry="4.7"/><ellipse cx="841.5" cy="700.0" rx="5.2" ry="4.7"/><ellipse cx="862.2" cy="703.2" rx="5.4" ry="4.9"/><ellipse cx="885.5" cy="700.8" rx="5.1" ry="4.7"/><ellipse cx="905.4" cy="703.2" rx="5.5" ry="5.0"/><ellipse cx="926.6" cy="700.3" rx="5.0" ry="4.6"/><ellipse cx="948.9" cy="701.6" rx="5.3" ry="4.8"/><ellipse cx="971.1" cy="699.7" rx="5.1" ry="4.7"/><ellipse cx="993.5" cy="701.9" rx="5.5" ry="5.0"/><ellipse cx="1016.8" cy="701.7" rx="5.3" ry="4.8"/><ellipse cx="1038.7" cy="699.9" rx="5.5" ry="5.0"/><ellipse cx="1061.1" cy="703.1" rx="5.4" ry="4.9"/><ellipse cx="1081.6" cy="701.2" rx="4.9" ry="4.5"/><ellipse cx="807.5" cy="718.8" rx="4.9" ry="4.4"/><ellipse cx="827.8" cy="719.2" rx="5.1" ry="4.6"/><ellipse cx="849.2" cy="718.6" rx="4.9" ry="4.5"/><ellipse cx="871.4" cy="720.0" rx="4.9" ry="4.4"/><ellipse cx="896.5" cy="721.0" rx="4.9" ry="4.5"/><ellipse cx="916.0" cy="719.9" rx="5.1" ry="4.6"/><ellipse cx="937.5" cy="722.0" rx="5.6" ry="5.1"/><ellipse cx="960.9" cy="720.5" rx="4.9" ry="4.5"/><ellipse cx="981.4" cy="719.9" rx="5.0" ry="4.6"/><ellipse cx="1006.3" cy="719.2" rx="4.9" ry="4.4"/><ellipse cx="1028.8" cy="720.7" rx="4.9" ry="4.5"/><ellipse cx="1049.2" cy="718.7" rx="5.2" ry="4.7"/><ellipse cx="1072.9" cy="722.0" rx="5.3" ry="4.9"/><ellipse cx="795.0" cy="738.9" rx="5.0" ry="4.5"/><ellipse cx="819.1" cy="739.6" rx="5.4" ry="4.9"/><ellipse cx="839.3" cy="738.4" rx="5.4" ry="4.9"/><ellipse cx="863.9" cy="740.9" rx="5.4" ry="4.9"/><ellipse cx="885.3" cy="740.4" rx="5.0" ry="4.5"/><ellipse cx="906.1" cy="738.9" rx="4.9" ry="4.4"/><ellipse cx="926.1" cy="738.6" rx="5.0" ry="4.6"/><ellipse cx="950.8" cy="741.3" rx="5.2" ry="4.7"/><ellipse cx="973.7" cy="741.4" rx="5.5" ry="5.0"/><ellipse cx="993.5" cy="738.4" rx="5.0" ry="4.5"/><ellipse cx="1014.8" cy="738.3" rx="5.3" ry="4.8"/><ellipse cx="1039.6" cy="740.8" rx="5.2" ry="4.7"/><ellipse cx="1060.6" cy="740.7" rx="4.9" ry="4.5"/><ellipse cx="1082.6" cy="741.1" rx="5.4" ry="4.9"/><ellipse cx="808.0" cy="758.3" rx="5.0" ry="4.5"/><ellipse cx="830.2" cy="757.7" rx="5.4" ry="4.9"/><ellipse cx="852.9" cy="758.0" rx="5.1" ry="4.7"/><ellipse cx="874.8" cy="759.3" rx="5.0" ry="4.5"/><ellipse cx="893.5" cy="757.0" rx="5.5" ry="5.0"/><ellipse cx="918.2" cy="757.0" rx="5.4" ry="4.9"/><ellipse cx="940.9" cy="759.0" rx="5.1" ry="4.6"/><ellipse cx="961.2" cy="756.9" rx="4.9" ry="4.4"/><ellipse cx="984.9" cy="759.0" rx="5.2" ry="4.7"/><ellipse cx="1006.7" cy="758.1" rx="5.5" ry="5.0"/><ellipse cx="1028.3" cy="757.2" rx="5.0" ry="4.6"/><ellipse cx="1048.2" cy="757.4" rx="5.3" ry="4.8"/><ellipse cx="1070.0" cy="758.1" rx="4.9" ry="4.5"/><ellipse cx="797.6" cy="776.7" rx="5.2" ry="4.7"/><ellipse cx="818.3" cy="778.9" rx="5.1" ry="4.7"/><ellipse cx="841.7" cy="777.3" rx="5.2" ry="4.8"/><ellipse cx="862.1" cy="775.4" rx="5.2" ry="4.7"/><ellipse cx="882.7" cy="775.3" rx="5.4" ry="4.9"/><ellipse cx="904.7" cy="777.2" rx="5.4" ry="4.9"/><ellipse cx="928.2" cy="776.6" rx="5.2" ry="4.7"/><ellipse cx="950.2" cy="778.5" rx="4.9" ry="4.5"/><ellipse cx="972.2" cy="776.3" rx="5.0" ry="4.6"/><ellipse cx="995.1" cy="777.4" rx="5.2" ry="4.8"/><ellipse cx="1017.0" cy="779.0" rx="5.2" ry="4.7"/><ellipse cx="1038.5" cy="777.3" rx="5.2" ry="4.7"/><ellipse cx="1060.8" cy="777.1" rx="5.2" ry="4.8"/><ellipse cx="1081.9" cy="779.1" rx="5.3" ry="4.9"/><ellipse cx="808.5" cy="798.0" rx="5.0" ry="4.6"/><ellipse cx="829.2" cy="798.0" rx="5.4" ry="5.0"/><ellipse cx="849.5" cy="794.7" rx="5.2" ry="4.7"/><ellipse cx="871.3" cy="795.2" rx="4.9" ry="4.4"/><ellipse cx="895.7" cy="797.4" rx="5.5" ry="5.0"/><ellipse cx="915.6" cy="797.1" rx="5.3" ry="4.8"/><ellipse cx="937.6" cy="797.8" rx="5.5" ry="5.0"/><ellipse cx="959.9" cy="798.1" rx="5.1" ry="4.7"/><ellipse cx="982.9" cy="798.2" rx="5.4" ry="4.9"/><ellipse cx="1003.6" cy="796.0" rx="5.2" ry="4.7"/><ellipse cx="1026.4" cy="795.0" rx="5.1" ry="4.6"/><ellipse cx="1049.9" cy="794.3" rx="5.2" ry="4.8"/><ellipse cx="1070.8" cy="794.3" rx="5.1" ry="4.6"/><ellipse cx="796.5" cy="815.2" rx="4.9" ry="4.4"/><ellipse cx="819.9" cy="816.3" rx="5.5" ry="5.0"/><ellipse cx="838.4" cy="814.2" rx="4.9" ry="4.4"/><ellipse cx="863.1" cy="814.2" rx="4.9" ry="4.5"/><ellipse cx="883.7" cy="816.8" rx="5.4" ry="4.9"/><ellipse cx="905.0" cy="813.8" rx="5.5" ry="5.0"/><ellipse cx="928.3" cy="816.0" rx="4.9" ry="4.5"/><ellipse cx="948.2" cy="815.9" rx="5.1" ry="4.7"/><ellipse cx="970.3" cy="816.9" rx="5.3" ry="4.8"/><ellipse cx="995.2" cy="813.5" rx="5.5" ry="5.0"/><ellipse cx="1014.3" cy="816.6" rx="5.2" ry="4.7"/><ellipse cx="1037.4" cy="815.4" rx="5.5" ry="5.0"/><ellipse cx="1059.1" cy="813.7" rx="5.2" ry="4.7"/><ellipse cx="1081.0" cy="813.6" rx="5.0" ry="4.5"/></g>
<ellipse cx="866" cy="680" rx="40" ry="22" fill="#5e5e80" opacity="0.65" filter="url(#bl8)"/>
<ellipse cx="900" cy="696" rx="16" ry="16" fill="#707090" opacity="0.4" filter="url(#bl8)"/>
<ellipse cx="1006" cy="682" rx="17" ry="20" fill="#626284" opacity="0.65" filter="url(#bl8)"/>
<g filter="url(#bl1)">
<polygon points="887.4,696.3 875.0,697.0 862.6,698.5 843.7,703.6 826.2,711.6 816.0,723.3 812.4,733.5 814.6,746.6 820.4,758.2 829.1,764.1 836.4,772.8 845.2,780.1 849.5,790.3 858.3,797.6 868.5,800.5 881.6,799.8 893.2,794.7 904.9,784.5 916.5,772.8 925.3,761.2 929.7,749.5 928.2,736.4 923.8,723.3 915.1,711.6 904.9,701.4 894.7,697.0" fill="#681a0c"/>
<g clip-path="url(#bigclip)">
<ellipse cx="838" cy="730" rx="24" ry="26" fill="#3a0806" opacity="0.55" filter="url(#bl8)"/>
<ellipse cx="882" cy="738" rx="26" ry="28" fill="#8e3418" opacity="0.55" filter="url(#bl5)"/>
<ellipse cx="906" cy="755" rx="14" ry="19" fill="#a4622a" opacity="0.5" filter="url(#bl5)"/>
<ellipse cx="885" cy="716" rx="18" ry="10" fill="#a05a24" opacity="0.4" filter="url(#bl5)"/>
<ellipse cx="866" cy="782" rx="16" ry="12" fill="#8a2a12" opacity="0.7" filter="url(#bl5)"/>
<ellipse cx="900" cy="792" rx="10" ry="6" fill="#3c0c06" opacity="0.6" filter="url(#bl3)"/>
<ellipse cx="822" cy="770" rx="12" ry="10" fill="#3a0c08" opacity="0.5" filter="url(#bl5)"/>
</g>
<ellipse cx="879.5" cy="736.5" rx="2.2" ry="0.9" fill="#f0d8c8" opacity="0.75"/>
<ellipse cx="883" cy="781.5" rx="1.6" ry="1.0" fill="#f0d8c8" opacity="0.75"/>
<ellipse cx="888.5" cy="773.5" rx="3" ry="0.8" fill="#e8c8b0" opacity="0.7" transform="rotate(-30 888.5 773.5)"/>
</g>
<g filter="url(#bl1)">
<polygon points="998.0,700.7 986.4,705.8 981.3,716.0 977.7,727.6 974.0,739.2 973.3,752.4 976.2,766.9 982.0,778.6 990.8,783.6 1001.0,781.5 1011.1,775.6 1021.3,769.8 1031.5,758.2 1036.6,746.5 1035.9,734.9 1032.3,726.1 1034.4,717.4 1030.8,710.1 1019.9,707.2 1008.2,702.9" fill="#c2a46e"/>
<g clip-path="url(#smallclip)">
<ellipse cx="1004" cy="710" rx="26" ry="12" fill="#a02418" opacity="0.85" filter="url(#bl3)"/>
<ellipse cx="988" cy="720" rx="8" ry="13" fill="#7a1410" opacity="0.8" filter="url(#bl3)"/>
<ellipse cx="1031" cy="752" rx="8" ry="20" fill="#b01c14" opacity="0.9" filter="url(#bl3)"/>
<ellipse cx="1020" cy="773" rx="8" ry="6" fill="#a81c14" opacity="0.8" filter="url(#bl3)"/>
<ellipse cx="990" cy="760" rx="13" ry="18" fill="#cdb98a" opacity="0.7" filter="url(#bl3)"/>
<ellipse cx="1012" cy="730" rx="12" ry="8" fill="#b4683a" opacity="0.55" filter="url(#bl3)"/>
</g>
<ellipse cx="1002" cy="752" rx="3" ry="1.2" fill="#efe2c4" opacity="0.6"/>
</g>
</g>
<text transform="translate(827.58 864.03) scale(0.3402 0.2707)" font-size="100" font-family='"Liberation Sans", Arial, sans-serif' fill="#000">shC</text>
<text transform="translate(934.30 864.04) scale(0.3322 0.2626)" font-size="100" font-family='"Liberation Sans", Arial, sans-serif' fill="#000">shANRIL</text>
<line x1="794.10" y1="879.60" x2="1063.60" y2="879.60" stroke="#000" stroke-width="3.50" stroke-linecap="butt"/>
<text transform="translate(880.32 927.50) scale(0.3481 0.3435)" font-size="100" font-family='"Liberation Sans", Arial, sans-serif' fill="#000">HNE-<tspan dx="7.30" dy="5.00" font-family="IPAGothic, 'Liberation Sans', sans-serif" font-size="98.30">1</tspan></text>
<line x1="1236.80" y1="628.50" x2="1236.80" y2="951.90" stroke="#000" stroke-width="2.90" stroke-linecap="butt"/>
<line x1="1225.80" y1="950.40" x2="1432.30" y2="950.40" stroke="#000" stroke-width="3.20" stroke-linecap="butt"/>
<line x1="1225.80" y1="630.30" x2="1236.80" y2="630.30" stroke="#000" stroke-width="2.60" stroke-linecap="butt"/>
<text transform="translate(1183.84 639.13) scale(0.2912 0.2732)" font-size="100" font-family='"Liberation Sans", Arial, sans-serif' fill="#000">0.6</text>
<line x1="1225.80" y1="737.00" x2="1236.80" y2="737.00" stroke="#000" stroke-width="2.60" stroke-linecap="butt"/>
<text transform="translate(1183.85 745.83) scale(0.2879 0.2732)" font-size="100" font-family='"Liberation Sans", Arial, sans-serif' fill="#000">0.4</text>
<line x1="1225.80" y1="843.70" x2="1236.80" y2="843.70" stroke="#000" stroke-width="2.60" stroke-linecap="butt"/>
<text transform="translate(1183.83 852.53) scale(0.2923 0.2732)" font-size="100" font-family='"Liberation Sans", Arial, sans-serif' fill="#000">0.2</text>
<line x1="1225.80" y1="950.40" x2="1236.80" y2="950.40" stroke="#000" stroke-width="2.60" stroke-linecap="butt"/>
<text transform="translate(1183.84 959.23) scale(0.2901 0.2732)" font-size="100" font-family='"Liberation Sans", Arial, sans-serif' fill="#000">0.0</text>
<line x1="1285.50" y1="667.80" x2="1285.50" y2="656.20" stroke="#000" stroke-width="2.80" stroke-linecap="butt"/>
<line x1="1278.25" y1="656.20" x2="1292.75" y2="656.20" stroke="#000" stroke-width="2.50" stroke-linecap="round"/>
<rect x="1261.85" y="668.25" width="47.30" height="282.15" fill="#d0d0d0" stroke="#000" stroke-width="2.90"/>
<line x1="1383.05" y1="805.00" x2="1383.05" y2="795.70" stroke="#000" stroke-width="2.80" stroke-linecap="butt"/>
<line x1="1375.95" y1="795.70" x2="1390.15" y2="795.70" stroke="#000" stroke-width="2.50" stroke-linecap="round"/>
<rect x="1359.35" y="805.45" width="47.40" height="144.95" fill="#d0d0d0" stroke="#000" stroke-width="2.90"/>
<line x1="1285.50" y1="950.40" x2="1285.50" y2="960.00" stroke="#000" stroke-width="2.80" stroke-linecap="butt"/>
<line x1="1383.20" y1="950.40" x2="1383.20" y2="960.00" stroke="#000" stroke-width="2.80" stroke-linecap="butt"/>
<polyline points="1283.20,636.30 1283.20,624.50 1381.40,624.50 1381.40,636.30" fill="none" stroke="#000" stroke-width="1.90" stroke-linejoin="miter"/>
<text transform="translate(1331.89 627.51) scale(0.2394 0.1943)" font-size="100" font-family='"Liberation Sans", Arial, sans-serif' fill="#000" stroke="#000" stroke-width="3.228" stroke-linejoin="round">*</text>
<text transform="translate(1257.56 980.33) scale(0.2815 0.2707)" font-size="100" font-family='"Liberation Sans", Arial, sans-serif' fill="#000">shC</text>
<text transform="translate(1248.11 1010.37) scale(0.2978 0.2631)" font-size="100" font-family='"Liberation Sans", Arial, sans-serif' fill="#000">(n=6)</text>
<text transform="translate(1332.17 980.86) scale(0.2772 0.2395)" font-size="100" font-family='"Liberation Sans", Arial, sans-serif' fill="#000">shANRIL</text>
<text transform="translate(1347.93 1011.87) scale(0.2955 0.2727)" font-size="100" font-family='"Liberation Sans", Arial, sans-serif' fill="#000">(n=6)</text>
<text transform="translate(1167.65 899.52) rotate(-90) scale(0.2602 0.2738)" font-size="100" font-family='"Liberation Sans", Arial, sans-serif' fill="#000">Tumour  weight (g)</text>
</svg></body></html>
